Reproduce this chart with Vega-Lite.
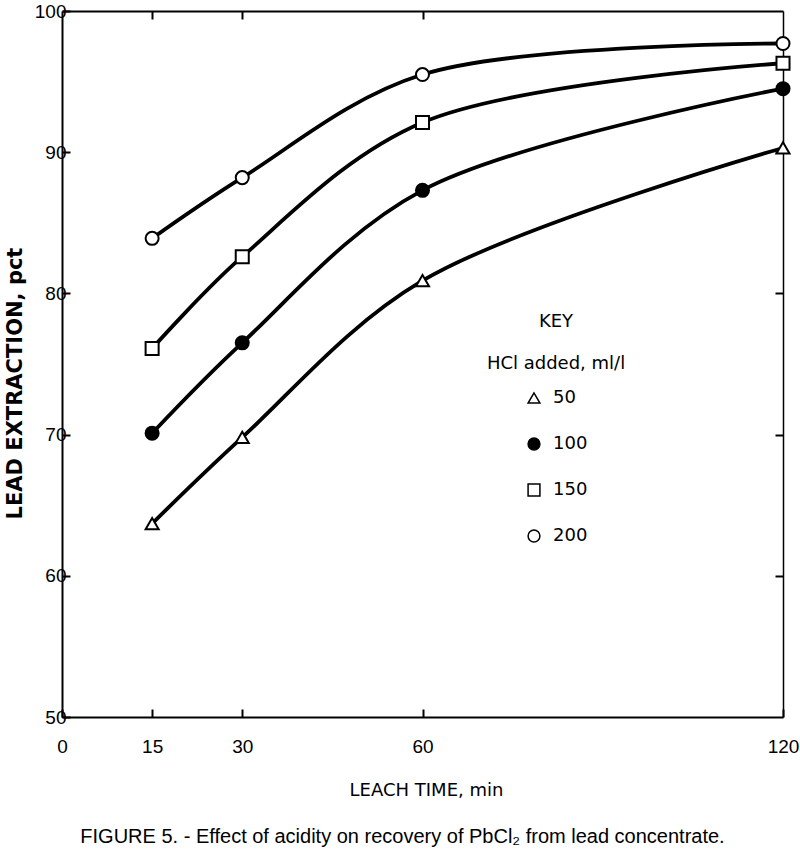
{
  "$schema": "https://vega.github.io/schema/vega-lite/v6.json",
  "autosize": {"type": "none"},
  "padding": {"left": 62, "top": 11, "right": 17, "bottom": 138},
  "width": 721,
  "height": 706,
  "background": "white",
  "title": {
    "text": "FIGURE 5. - Effect of acidity on recovery of PbCl₂ from lead concentrate.",
    "orient": "bottom",
    "anchor": "middle",
    "frame": "group",
    "offset": 28,
    "dx": -20,
    "font": "Liberation Sans",
    "fontSize": 20,
    "fontWeight": "normal",
    "color": "black"
  },
  "config": {
    "view": {"stroke": null},
    "axis": {
      "grid": false,
      "domainColor": "black",
      "domainWidth": 2,
      "tickColor": "black",
      "tickWidth": 2,
      "labelColor": "black",
      "titleColor": "black",
      "labelFont": "Liberation Sans",
      "labelFontSize": 19,
      "titleFont": "DejaVu Sans",
      "titleFontWeight": "normal"
    },
    "legend": {
      "labelFont": "DejaVu Sans",
      "titleFont": "DejaVu Sans"
    }
  },
  "data": {
    "values": [
      {"t": 15, "e": 63.7, "hcl": "50"},
      {"t": 30, "e": 69.8, "hcl": "50"},
      {"t": 60, "e": 80.9, "hcl": "50"},
      {"t": 120, "e": 90.3, "hcl": "50"},
      {"t": 15, "e": 70.1, "hcl": "100"},
      {"t": 30, "e": 76.5, "hcl": "100"},
      {"t": 60, "e": 87.3, "hcl": "100"},
      {"t": 120, "e": 94.5, "hcl": "100"},
      {"t": 15, "e": 76.1, "hcl": "150"},
      {"t": 30, "e": 82.6, "hcl": "150"},
      {"t": 60, "e": 92.1, "hcl": "150"},
      {"t": 120, "e": 96.3, "hcl": "150"},
      {"t": 15, "e": 83.9, "hcl": "200"},
      {"t": 30, "e": 88.2, "hcl": "200"},
      {"t": 60, "e": 95.5, "hcl": "200"},
      {"t": 120, "e": 97.7, "hcl": "200"}
    ]
  },
  "resolve": {"axis": {"x": "independent", "y": "independent"}},
  "layer": [
    {
      "mark": {"type": "line", "interpolate": "catmull-rom", "stroke": "black", "strokeWidth": 3.8},
      "encoding": {
        "x": {
          "field": "t", "type": "quantitative",
          "scale": {"domain": [0, 120], "nice": false, "zero": false},
          "axis": {
            "orient": "bottom", "values": [0, 15, 30, 60, 120], "tickSize": -8,
            "labelPadding": 28, "title": "LEACH TIME, min", "titleFontSize": 18,
            "titleX": 364, "titleY": 73, "titleBaseline": "middle", "labelFlush": false
          }
        },
        "y": {
          "field": "e", "type": "quantitative",
          "scale": {"domain": [50, 100], "nice": false, "zero": false},
          "axis": {
            "orient": "left", "values": [50, 60, 70, 80, 90, 100], "tickSize": -8,
            "labelPadding": 4, "title": "LEAD EXTRACTION, pct", "titleFontSize": 21,
            "titleFontWeight": "bold",
            "titleX": -47, "titleY": 372, "titleAngle": -90, "titleBaseline": "middle",
            "titleAlign": "center", "labelFlush": false
          }
        },
        "detail": {"field": "hcl", "type": "nominal"}
      }
    },
    {
      "mark": {"type": "point", "filled": true, "stroke": "black", "strokeWidth": 2, "size": 170, "opacity": 1},
      "encoding": {
        "x": {
          "field": "t", "type": "quantitative",
          "axis": {"orient": "top", "values": [15, 30, 60], "tickSize": -8, "labels": false, "title": null}
        },
        "y": {
          "field": "e", "type": "quantitative",
          "axis": {"orient": "right", "values": [60, 70, 80, 90], "tickSize": -8, "labels": false, "title": null, "domainWidth": 1.5}
        },
        "shape": {
          "field": "hcl", "type": "nominal",
          "scale": {"domain": ["50", "100", "150", "200"], "range": ["triangle-up", "circle", "square", "circle"]},
          "legend": {
            "orient": "none", "legendX": 425, "legendY": 302,
            "title": ["KEY", "HCl added, ml/l"], "titleAlign": "center", "titleAnchor": "middle",
            "titleFontSize": 18, "titleFontWeight": "normal", "titleLineHeight": 42, "titleColor": "black",
            "titlePadding": 16, "labelFontSize": 18, "labelColor": "black", "symbolOffset": 1,
            "symbolSize": 140, "rowPadding": 28, "labelOffset": 10,
            "encode": {
              "symbols": {
                "enter": {
                  "stroke": {"value": "black"}, "strokeWidth": {"value": 2}, "opacity": {"value": 1},
                  "fill": {"signal": "datum.value === '100' ? 'black' : 'white'"}
                },
                "update": {
                  "stroke": {"value": "black"}, "strokeWidth": {"value": 2}, "opacity": {"value": 1},
                  "fill": {"signal": "datum.value === '100' ? 'black' : 'white'"}
                }
              }
            }
          }
        },
        "fill": {
          "field": "hcl", "type": "nominal",
          "scale": {"domain": ["50", "100", "150", "200"], "range": ["white", "black", "white", "white"]},
          "legend": null
        }
      }
    }
  ]
}
